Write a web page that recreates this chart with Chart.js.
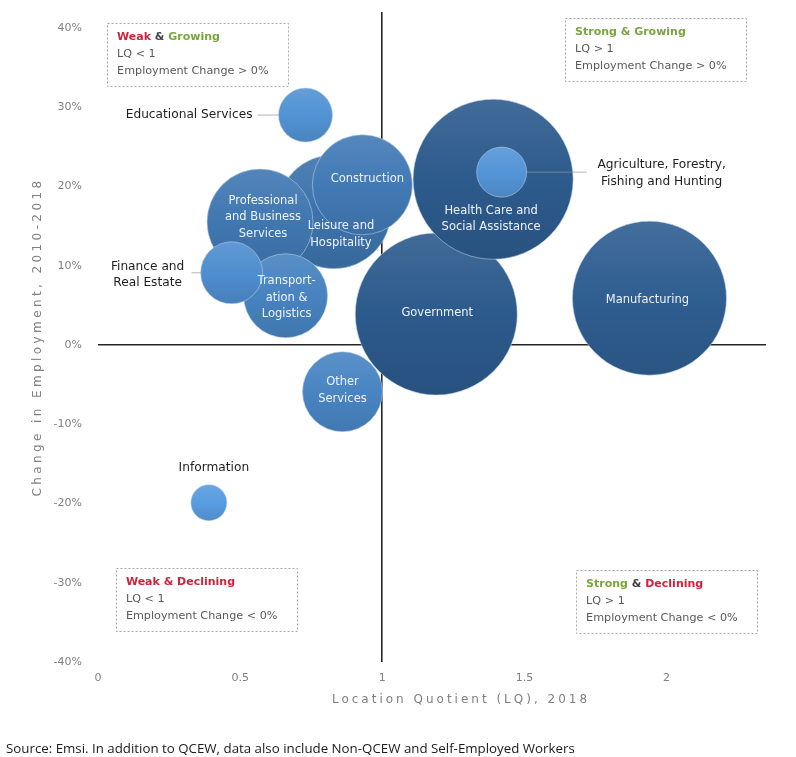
<!DOCTYPE html>
<html>
<head>
<meta charset="utf-8">
<title>Location Quotient vs Employment Change</title>
<script src="https://cdn.jsdelivr.net/npm/chart.js@4.4.0/dist/chart.umd.min.js"></script>
<style>
    html, body { margin: 0; padding: 0; background: #fff; }
    canvas { display: block; }
</style>
</head>
<body>
<canvas id="lqChart" width="796" height="757"></canvas>
<script>
// industries, drawn in this order (later ones sit on top)
const industries = [
    'Government',
    'Health Care and Social Assistance',
    'Manufacturing',
    'Leisure and Hospitality',
    'Construction',
    'Professional and Business Services',
    'Transportation & Logistics',
    'Finance and Real Estate',
    'Other Services',
    'Educational Services',
    'Agriculture, Forestry, Fishing and Hunting',
    'Information'
];
const locationQuotient = [1.19, 1.39, 1.94, 0.83, 0.93, 0.57, 0.66, 0.47, 0.86, 0.73, 1.42, 0.39];
const employmentChange = [3.9, 20.9, 5.9, 16.8, 20.2, 15.5, 6.2, 9.1, -5.9, 29.0, 21.8, -19.9];
const bubbleRadius = [81, 80, 77, 57, 50, 53, 42, 31, 40, 27, 25, 18];

const xTicks = [0, 0.5, 1, 1.5, 2];
const yTicks = [-40, -30, -20, -10, 0, 10, 20, 30, 40];

// label text for each bubble, offsets in px from the bubble centre
const labelLayout = [
    { lines: ['Government'], dx: 1, dy: -1, inside: true },
    { lines: ['Health Care and', 'Social Assistance'], dx: -2, dy: 40, inside: true },
    { lines: ['Manufacturing'], dx: -2, dy: 2, inside: true },
    { lines: ['Leisure and', 'Hospitality'], dx: 7, dy: 23, inside: true },
    { lines: ['Construction'], dx: 5, dy: -6, inside: true },
    { lines: ['Professional', 'and Business', 'Services'], dx: 3, dy: -5, inside: true },
    { lines: ['Transport-', 'ation &', 'Logistics'], dx: 1, dy: 2, inside: true },
    { lines: ['Finance and', 'Real Estate'], dx: -84, dy: 2, leader: [-40, -31] },
    { lines: ['Other', 'Services'], dx: 0, dy: -1, inside: true },
    { lines: ['Educational Services'], dx: -53, dy: 0, align: 'right', leader: [-48, -27] },
    { lines: ['Agriculture, Forestry,', 'Fishing and Hunting'], dx: 160, dy: 1, leader: [25, 85] },
    { lines: ['Information'], dx: 5, dy: -35 }
];

const RED = '#cc2440';
const GREEN = '#78a63c';
const DARK = '#404040';

const quadrantNotes = [
    { title: [['Weak', RED], [' & ', DARK], ['Growing', GREEN]], lines: ['LQ < 1', 'Employment Change > 0%'], at: [0.032, 40.6] },
    { title: [['Strong & Growing', GREEN]], lines: ['LQ > 1', 'Employment Change > 0%'], at: [1.643, 41.2] },
    { title: [['Weak & Declining', RED]], lines: ['LQ < 1', 'Employment Change < 0%'], at: [0.063, -28.1] },
    { title: [['Strong', GREEN], [' & ', DARK], ['Declining', RED]], lines: ['LQ > 1', 'Employment Change < 0%'], at: [1.682, -28.4] }
];

const FONT = '"DejaVu Sans", sans-serif';

function mix(a, b, t) {
    return a.map((v, i) => Math.round(v + (b[i] - v) * t));
}
function rgb(c) {
    return 'rgb(' + c.join(',') + ')';
}

// small bubbles lighter, big ones deeper navy, each with a soft top-to-bottom shade
const lightBlue = [88, 156, 224];
const navy = [44, 90, 140];
function bubbleFill(ctx) {
    if (ctx.type !== 'data') return rgb(navy);
    const chart = ctx.chart;
    const p = ctx.raw;
    const t = Math.min(1, Math.max(0, (p.r - 18) / (81 - 18)));
    const base = mix(lightBlue, navy, t);
    const cy = chart.scales.y ? chart.scales.y.getPixelForValue(p.y) : NaN;
    if (!isFinite(cy)) return rgb(base);
    const g = chart.ctx.createLinearGradient(0, cy - p.r, 0, cy + p.r);
    g.addColorStop(0, rgb(mix(base, [255, 255, 255], 0.1)));
    g.addColorStop(0.5, rgb(base));
    g.addColorStop(1, rgb(mix(base, [0, 0, 0], 0.1)));
    return g;
}

const bubbleLabels = {
    id: 'bubbleLabels',
    afterDatasetsDraw(chart) {
        const ctx = chart.ctx;
        const meta = chart.getDatasetMeta(0);
        meta.data.forEach((pt, i) => {
            const lay = labelLayout[i];
            const cx = pt.x, cy = pt.y;
            ctx.save();
            if (lay.leader) {
                ctx.strokeStyle = 'rgba(150,150,150,0.7)';
                ctx.lineWidth = 1;
                ctx.beginPath();
                ctx.moveTo(cx + lay.leader[0], cy);
                ctx.lineTo(cx + lay.leader[1], cy);
                ctx.stroke();
            }
            ctx.font = (lay.inside ? '11.5px ' : '12.2px ') + FONT;
            ctx.fillStyle = lay.inside ? '#eef3fa' : '#1e1e1e';
            ctx.textAlign = lay.align || 'center';
            ctx.textBaseline = 'middle';
            const lh = 16.5;
            const y0 = cy + lay.dy - (lay.lines.length - 1) * lh / 2;
            lay.lines.forEach((s, k) => ctx.fillText(s, cx + lay.dx, y0 + k * lh));
            ctx.restore();
        });
    }
};

const annotations = {
    id: 'annotations',
    afterDraw(chart) {
        const ctx = chart.ctx;
        const { x: xs, y: ys } = chart.scales;

        // quadrant notes in dashed boxes
        quadrantNotes.forEach(q => {
            const left = xs.getPixelForValue(q.at[0]);
            const top = ys.getPixelForValue(q.at[1]);
            ctx.save();
            ctx.strokeStyle = '#a6a6a6';
            ctx.lineWidth = 1;
            ctx.setLineDash([2, 2]);
            ctx.strokeRect(Math.round(left) + 0.5, Math.round(top) + 0.5, 181, 63);
            ctx.setLineDash([]);
            ctx.textBaseline = 'middle';
            ctx.textAlign = 'left';
            let tx = left + 10;
            ctx.font = 'bold 11px ' + FONT;
            q.title.forEach(([s, c]) => {
                ctx.fillStyle = c;
                ctx.fillText(s, tx, top + 14);
                tx += ctx.measureText(s).width;
            });
            ctx.font = '11.2px ' + FONT;
            ctx.fillStyle = '#595959';
            q.lines.forEach((s, k) => ctx.fillText(s, left + 10, top + 31 + k * 17));
            ctx.restore();
        });

        // axis titles, letter-spaced
        ctx.save();
        ctx.fillStyle = '#808080';
        ctx.font = '12px ' + FONT;
        ctx.letterSpacing = '3px';
        ctx.textAlign = 'center';
        ctx.textBaseline = 'middle';
        ctx.fillText('Location Quotient (LQ), 2018', 461, 700);
        ctx.translate(38, (chart.chartArea.top + chart.chartArea.bottom) / 2);
        ctx.rotate(-Math.PI / 2);
        ctx.letterSpacing = '3.4px';
        ctx.fillText('Change in Employment, 2010-2018', 0, 0);
        ctx.restore();

        // source line
        ctx.save();
        ctx.fillStyle = '#1a1a1a';
        ctx.font = '13.3px "Open Sans", sans-serif';
        ctx.textAlign = 'left';
        ctx.textBaseline = 'middle';
        ctx.fillText('Source: Emsi. In addition to QCEW, data also include Non-QCEW and Self-Employed Workers', 6, 749);
        ctx.restore();
    }
};

const points = industries.map((name, i) => ({
    x: locationQuotient[i],
    y: employmentChange[i],
    r: bubbleRadius[i]
}));

new Chart(document.getElementById('lqChart'), {
    type: 'bubble',
    data: {
        labels: industries,
        datasets: [{
            data: points,
            backgroundColor: bubbleFill,
            borderColor: 'rgba(190,210,235,0.55)',
            borderWidth: 1,
            clip: false
        }]
    },
    options: {
        responsive: false,
        animation: false,
        events: [],
        layout: { autoPadding: false, padding: { top: 12, right: 30, bottom: 0, left: 0 } },
        plugins: {
            legend: { display: false },
            tooltip: { enabled: false }
        },
        scales: {
            x: {
                type: 'linear',
                min: 0,
                max: 2.35,
                z: 1,
                afterFit: scale => {
                    scale.height = 95;
                    scale.paddingLeft = 0;
                    scale.paddingRight = 0;
                },
                afterBuildTicks: scale => { scale.ticks = xTicks.map(v => ({ value: v })); },
                border: { display: false },
                grid: {
                    drawTicks: false,
                    color: c => (c.tick && c.tick.value === 1 ? '#262626' : 'transparent'),
                    lineWidth: 1.6
                },
                ticks: {
                    padding: 10,
                    color: '#808080',
                    font: { family: 'DejaVu Sans', size: 11 },
                    callback: v => String(v)
                }
            },
            y: {
                type: 'linear',
                min: -40,
                max: 42,
                z: 1,
                afterFit: scale => {
                    scale.width = 98;
                    scale.paddingTop = 0;
                    scale.paddingBottom = 0;
                },
                afterBuildTicks: scale => { scale.ticks = yTicks.map(v => ({ value: v })); },
                border: { display: false },
                grid: {
                    drawTicks: false,
                    color: c => (c.tick && c.tick.value === 0 ? '#262626' : 'transparent'),
                    lineWidth: 1.6
                },
                ticks: {
                    padding: 16,
                    color: '#808080',
                    font: { family: 'DejaVu Sans', size: 11 },
                    callback: v => v + '%'
                }
            }
        }
    },
    plugins: [bubbleLabels, annotations]
});
</script>
</body>
</html>
